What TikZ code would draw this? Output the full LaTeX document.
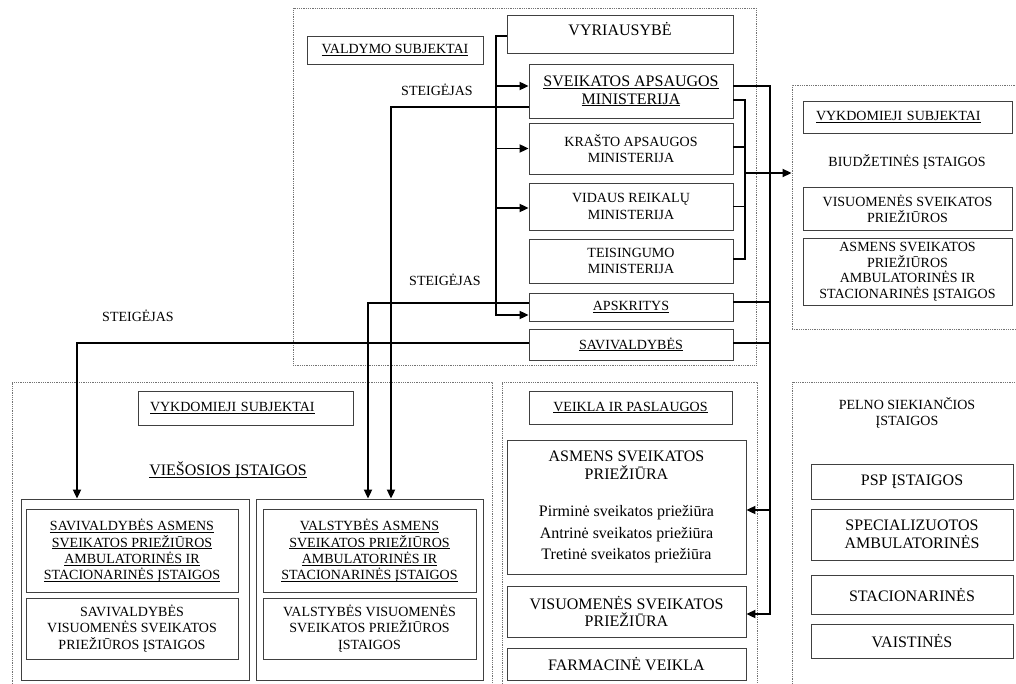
\documentclass[tikz,border=0pt]{standalone}
\usepackage{fontspec}
\setmainfont{Liberation Serif}
\usetikzlibrary{arrows.meta,calc,positioning}
\newcommand{\fsmall}{\fontsize{14}{16.3}\selectfont}
\newcommand{\flarge}{\fontsize{16}{17.5}\selectfont}
\newcommand{\ulx}[1]{\underline{\raisebox{0pt}[\height][0pt]{#1}}}

\begin{document}
\begin{tikzpicture}[x=1pt,y=-1pt,
    grp/.style={draw=black!55, line width=0.9pt, dash pattern=on 0.9pt off 0.9pt},
    box/.style={draw=black!75, line width=0.8pt, align=center, inner sep=2pt, font=\fsmall},
    big/.style={font=\flarge},
    sz/.style 2 args={minimum width=#1pt, minimum height=#2pt},
    lbl/.style={font=\fsmall, align=center},
    conn/.style={line width=1.8pt, black},
    arr/.style={conn, -{Triangle[length=9pt,width=8pt]}},
    ]
\useasboundingbox (0,0) rectangle (1016,684);
\clip (0,0) rectangle (1016,684);

\node[grp, sz={463}{357}] (gvald) at (524.5,186.5) {};
\node[grp, sz={238}{244}] (gbudz) at (911,207) {};
\node[grp, sz={480}{330}] (gvies) at (252,547) {};
\node[grp, sz={255}{330}] (gveik) at (629.5,547) {};
\node[grp, sz={238}{330}] (gpeln) at (911,547) {};

\node[box, sz={176}{28}] (valdymo) at (395,50) {\ulx{VALDYMO SUBJEKTAI}};
\node[box, big, sz={226}{38}, text depth=11pt] (vyr) at (620,34) {VYRIAUSYBĖ};
\node[box, big, sz={204}{54}] (sam) at (631,91) {\ulx{SVEIKATOS APSAUGOS}\\\ulx{MINISTERIJA}};
\node[box, sz={204}{51}] (kam) at (631,148.5) {KRAŠTO APSAUGOS\\MINISTERIJA};
\node[box, sz={204}{47}] (vrm) at (631,206.5) {VIDAUS REIKALŲ\\MINISTERIJA};
\node[box, sz={204}{44}] (tm) at (631,261) {TEISINGUMO\\MINISTERIJA};
\node[box, sz={204}{28}] (apskr) at (631,307) {\ulx{APSKRITYS}};
\node[box, sz={204}{31}] (saviv) at (631,344.5) {\ulx{SAVIVALDYBĖS}};

\node[lbl] (st1) at (437,90) {STEIGĖJAS};
\node[lbl] (st2) at (445,280) {STEIGĖJAS};
\node[lbl] (st3) at (138,316) {STEIGĖJAS};

\node[box, sz={209}{32}, text width=183pt, align=left] (vykd1) at (907.5,117) {\ulx{VYKDOMIEJI SUBJEKTAI}};
\node[lbl] (biudz) at (907,162) {BIUDŽETINĖS ĮSTAIGOS};
\node[box, sz={209}{43}] (vsp1) at (907.5,208.5) {VISUOMENĖS SVEIKATOS\\PRIEŽIŪROS};
\node[box, sz={209}{67}, inner ysep=0pt, font=\fontsize{14}{15.5}\selectfont] (asi1) at (907.5,271.5) {ASMENS SVEIKATOS\\PRIEŽIŪROS\\AMBULATORINĖS IR\\STACIONARINĖS ĮSTAIGOS};

\node[box, sz={215}{34}, text width=191pt, align=left] (vykd2) at (245.5,408) {\ulx{VYKDOMIEJI SUBJEKTAI}};
\node[lbl, big] (vies) at (228,470) {\ulx{VIEŠOSIOS ĮSTAIGOS}};
\node[box, sz={228}{181}] (savout) at (135,589.5) {};
\node[box, sz={227}{181}] (valout) at (369.5,589.5) {};
\node[box, sz={212}{83}] (savasm) at (132,550.5) {\ulx{SAVIVALDYBĖS ASMENS}\\\ulx{SVEIKATOS PRIEŽIŪROS}\\\ulx{AMBULATORINĖS IR}\\\ulx{STACIONARINĖS ĮSTAIGOS}};
\node[box, sz={212}{61}] (savvis) at (132,628.5) {SAVIVALDYBĖS\\VISUOMENĖS SVEIKATOS\\PRIEŽIŪROS ĮSTAIGOS};
\node[box, sz={213}{83}] (valasm) at (369.5,550.5) {\ulx{VALSTYBĖS ASMENS}\\\ulx{SVEIKATOS PRIEŽIŪROS}\\\ulx{AMBULATORINĖS IR}\\\ulx{STACIONARINĖS ĮSTAIGOS}};
\node[box, sz={213}{61}] (valvis) at (369.5,628.5) {VALSTYBĖS VISUOMENĖS\\SVEIKATOS PRIEŽIŪROS\\ĮSTAIGOS};

\node[box, sz={203}{33}] (veikla) at (630.5,407.5) {\ulx{VEIKLA IR PASLAUGOS}};
\node[box, big, sz={239}{134}] (asmprz) at (626.5,507) {ASMENS SVEIKATOS\\PRIEŽIŪRA\\[20pt]Pirminė sveikatos priežiūra\\[4pt]Antrinė sveikatos priežiūra\\[4pt]Tretinė sveikatos priežiūra};
\node[box, big, sz={239}{51}] (vsp2) at (626.5,611.5) {VISUOMENĖS SVEIKATOS\\PRIEŽIŪRA};
\node[box, big, sz={239}{32}] (farm) at (626.5,664) {FARMACINĖ VEIKLA};

\node[lbl] (pelno) at (907,413) {PELNO SIEKIANČIOS\\ĮSTAIGOS};
\node[box, big, sz={202}{35}] (psp) at (912,481.5) {PSP ĮSTAIGOS};
\node[box, big, sz={202}{51}] (spec) at (912,534.5) {SPECIALIZUOTOS\\AMBULATORINĖS};
\node[box, big, sz={202}{39}] (stac) at (912,594.5) {STACIONARINĖS};
\node[box, big, sz={202}{34}] (vaist) at (912,641) {VAISTINĖS};

\coordinate (bus) at (496,0);
\coordinate (ibus) at (745,0);
\coordinate (rbus) at (770,0);

\coordinate (ap) at ([yshift=-8pt]apskr.west);
\draw[arr] ([yshift=-2pt]vyr.west) -| (ap -| bus) -- (ap);
\foreach \n/\s in {sam/5, kam/0, vrm/-1.5} {
    \coordinate (t) at ([yshift=\s pt]\n.west);
    \draw[arr] (t -| bus) -- (t);
}

\draw[arr] ([yshift=-16pt]sam.west) -| ([xshift=21.5pt]valout.north);
\draw[arr] ([yshift=4pt]apskr.west) -| ([xshift=-1.5pt]valout.north);
\draw[arr] ([yshift=1.5pt]saviv.west) -| ([xshift=-58pt]savout.north);

\coordinate (i1) at ([yshift=-9pt]sam.east);
\coordinate (i2) at ([yshift=2pt]tm.east);
\draw[conn] (i1) -| (i2 -| ibus) -- (i2);
\foreach \n/\s in {kam/1.5, vrm/0} {
    \coordinate (t) at ([yshift=\s pt]\n.east);
    \draw[conn] (t) -- (t -| ibus);
}
\coordinate (j) at (745,173);
\draw[arr] (j) -- (j -| gbudz.west);

\coordinate (r1) at ([yshift=5pt]sam.east);
\coordinate (r2) at ([yshift=-2.5pt]vsp2.east);
\coordinate (r3) at ([yshift=-3pt]asmprz.east);
\draw[arr] (r1) -| (r2 -| rbus) -- (r2);
\draw[arr] (r3 -| rbus) -- (r3);
\foreach \n/\s in {apskr/5, saviv/1.5} {
    \coordinate (t) at ([yshift=\s pt]\n.east);
    \draw[conn] (t) -- (t -| rbus);
}

\end{tikzpicture}
\end{document}
